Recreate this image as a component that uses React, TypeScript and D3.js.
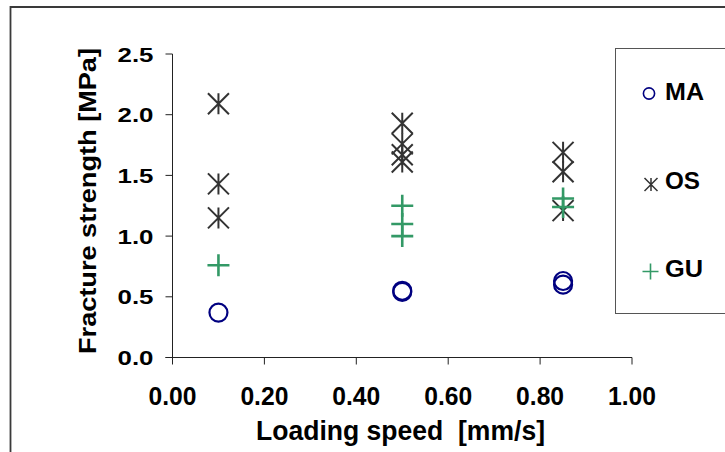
import React from 'react';
import * as d3 from 'd3';

const xTicks = [0, 0.2, 0.4, 0.6, 0.8, 1.0];
const yTicks = [0, 0.5, 1.0, 1.5, 2.0, 2.5];

const maX = [0.1, 0.5, 0.5, 0.85, 0.85];
const maY = [0.37, 0.55, 0.54, 0.63, 0.6];

const osX = [0.1, 0.1, 0.1, 0.5, 0.5, 0.5, 0.5, 0.85, 0.85, 0.85];
const osY = [2.09, 1.43, 1.15, 1.93, 1.76, 1.67, 1.61, 1.69, 1.53, 1.21];

const guX = [0.1, 0.5, 0.5, 0.5, 0.85, 0.85];
const guY = [0.76, 1.25, 1.1, 1.0, 1.31, 1.24];

const seriesNames = ['MA', 'OS', 'GU'];
const xTitle = 'Loading speed  [mm/s]';
const yTitle = 'Fracture strength [MPa]';

const FONT = '"Liberation Sans", Arial, sans-serif';
const C_MA = '#000080';
const C_OS = '#333333';
const C_GU = '#339966';

function Star({ cx, cy, r, sw }: { cx: number; cy: number; r: number; sw: number }) {
  return (
    <path
      d={`M${cx - r},${cy - r}L${cx + r},${cy + r}M${cx - r},${cy + r}L${cx + r},${cy - r}M${cx},${cy - r}L${cx},${cy + r}`}
      stroke={C_OS}
      strokeWidth={sw}
      fill="none"
    />
  );
}

function Plus({ cx, cy, r, sw }: { cx: number; cy: number; r: number; sw: number }) {
  return (
    <path
      d={`M${cx - r},${cy}L${cx + r},${cy}M${cx},${cy - r}L${cx},${cy + r}`}
      stroke={C_GU}
      strokeWidth={sw}
      fill="none"
    />
  );
}

export default function App() {
  const x = d3.scaleLinear().domain([0, 1]).range([172.5, 632]);
  const y = d3.scaleLinear().domain([0, 2.5]).range([357.5, 54]);
  const fx = d3.format('.2f');
  const fy = d3.format('.1f');

  const legendY = [93.5, 184.5, 271.5];
  const legendBase = [100, 188.5, 276.5];
  const legendLen = [39, 35, 38];

  return (
    <svg
      width={725}
      height={452}
      style={{ position: 'absolute', left: 0, top: 0, background: '#fff' }}
      fontFamily={FONT}
      fontWeight="bold"
    >
      <rect x={0} y={0} width={725} height={452} fill="#fff" />
      {/* outer chart border */}
      <path d="M10.5,460V7H740" stroke="#3a3a3a" strokeWidth={1.8} fill="none" />

      {/* axes */}
      <line x1={x(0)} x2={x(0)} y1={y(2.5)} y2={y(0)} stroke="#222" strokeWidth={1} />
      <line x1={x(0) - 7} x2={x(1)} y1={y(0)} y2={y(0)} stroke="#222" strokeWidth={1} />
      {yTicks.map((t) => (
        <g key={'yt' + t}>
          <line x1={x(0) - 7} x2={x(0)} y1={y(t)} y2={y(t)} stroke="#222" strokeWidth={1} />
          <text
            x={153.5}
            y={y(t) + 7.5}
            fontSize={20}
            textAnchor="end"
            textLength={36}
            lengthAdjust="spacingAndGlyphs"
            fill="#000"
          >
            {fy(t)}
          </text>
        </g>
      ))}
      {xTicks.map((t) => (
        <g key={'xt' + t}>
          <line x1={x(t)} x2={x(t)} y1={y(0)} y2={y(0) + 7} stroke="#222" strokeWidth={1} />
          <text
            x={x(t)}
            y={405}
            fontSize={25}
            textAnchor="middle"
            textLength={48}
            lengthAdjust="spacingAndGlyphs"
            fill="#000"
          >
            {fx(t)}
          </text>
        </g>
      ))}

      {/* axis titles */}
      <text
        x={400.5}
        y={440}
        fontSize={28}
        textAnchor="middle"
        textLength={289}
        lengthAdjust="spacingAndGlyphs"
        style={{ whiteSpace: 'pre' }}
        fill="#000"
      >
        {xTitle}
      </text>
      <text
        transform="translate(96,201) rotate(-90)"
        x={0}
        y={0}
        fontSize={23.5}
        textAnchor="middle"
        textLength={306}
        lengthAdjust="spacingAndGlyphs"
        fill="#000"
      >
        {yTitle}
      </text>

      {/* data */}
      {osX.map((v, i) => (
        <Star key={'os' + i} cx={x(v)} cy={y(osY[i])} r={10.5} sw={2} />
      ))}
      {guX.map((v, i) => (
        <Plus key={'gu' + i} cx={x(v)} cy={y(guY[i])} r={11} sw={2.6} />
      ))}
      {maX.map((v, i) => (
        <circle key={'ma' + i} cx={x(v)} cy={y(maY[i])} r={9} fill="none" stroke={C_MA} strokeWidth={2.2} />
      ))}

      {/* legend */}
      <rect x={615.5} y={48.5} width={140} height={265} fill="none" stroke="#555" strokeWidth={1} />
      <circle cx={649} cy={legendY[0]} r={5.6} fill="none" stroke={C_MA} strokeWidth={1.6} />
      <Star cx={651} cy={legendY[1]} r={6.5} sw={1.5} />
      <Plus cx={650.5} cy={legendY[2]} r={8} sw={1.6} />
      {seriesNames.map((s, i) => (
        <text
          key={s}
          x={665}
          y={legendBase[i]}
          fontSize={24}
          textLength={legendLen[i]}
          lengthAdjust="spacingAndGlyphs"
          fill="#000"
        >
          {s}
        </text>
      ))}
    </svg>
  );
}
